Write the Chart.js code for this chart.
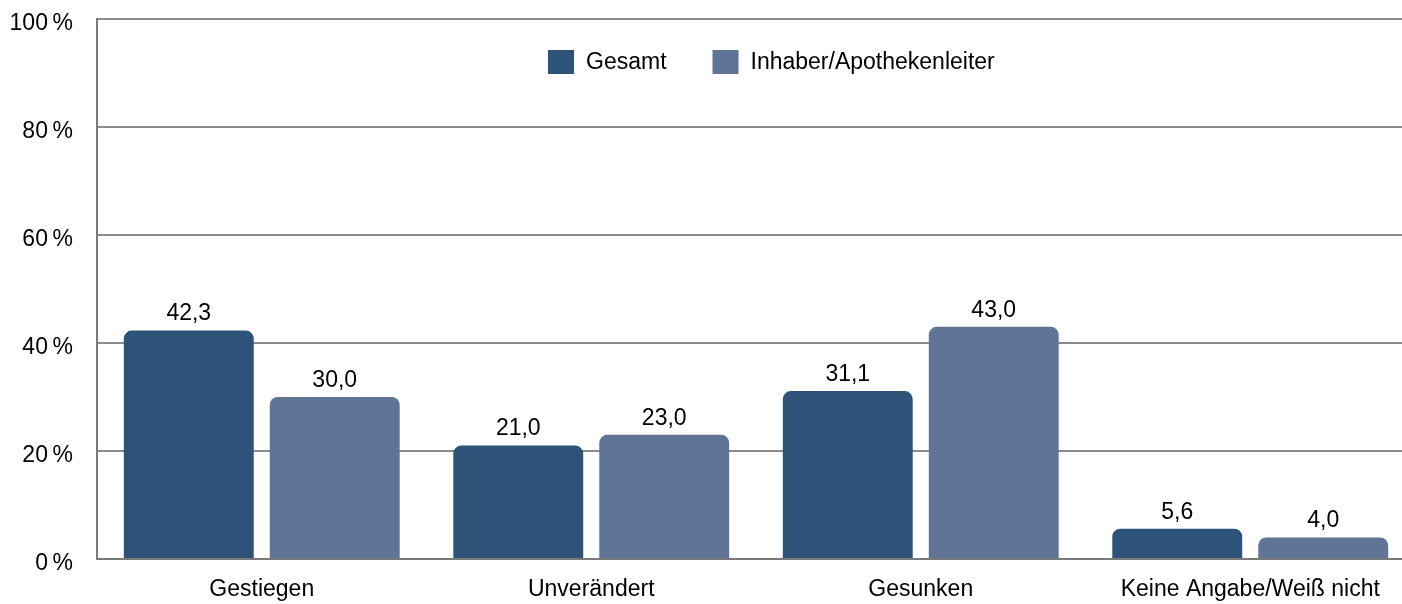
<!DOCTYPE html>
<html>
<head>
<meta charset="utf-8">
<script src="https://cdn.jsdelivr.net/npm/chart.js@4.4.0/dist/chart.umd.min.js"></script>
<style>
  html, body { margin: 0; padding: 0; background: #fff; overflow: hidden; }
  #wrap { width: 1402px; height: 604px; overflow: hidden; }
</style>
</head>
<body>
<div id="wrap"><canvas id="chart" width="1415" height="604"></canvas></div>
<script>
// Data
const categories = ['Gestiegen', 'Unverändert', 'Gesunken', 'Keine Angabe/Weiß nicht'];
const seriesNames = ['Gesamt', 'Inhaber/Apothekenleiter'];
const gesamt = [42.3, 21.0, 31.1, 5.6];
const inhaber = [30.0, 23.0, 43.0, 4.0];
const yTicks = [0, 20, 40, 60, 80, 100];

const colors = ['#2e5379', '#607596'];
const fontFamily = '"Liberation Sans", Arial, sans-serif';
const fontSize = 23;

// Value labels above each bar (German decimal comma)
const valueLabels = {
    id: 'valueLabels',
    afterDatasetsDraw(chart) {
        const ctx = chart.ctx;
        ctx.save();
        ctx.font = fontSize + 'px ' + fontFamily;
        ctx.fillStyle = '#000';
        ctx.textAlign = 'center';
        ctx.textBaseline = 'bottom';
        chart.data.datasets.forEach((ds, i) => {
            chart.getDatasetMeta(i).data.forEach((bar, j) => {
                ctx.fillText(ds.data[j].toFixed(1).replace('.', ','), bar.x, bar.y - 5);
            });
        });
        ctx.restore();
    }
};

// Legend drawn inside the plot area, near the top
const innerLegend = {
    id: 'innerLegend',
    afterDraw(chart) {
        const ctx = chart.ctx;
        ctx.save();
        ctx.font = fontSize + 'px ' + fontFamily;
        ctx.textBaseline = 'middle';
        const box = 26, gapText = 12, gapItem = 46;
        const items = chart.data.datasets.map(ds => ({ label: ds.label, color: ds.backgroundColor }));
        let x = 548;
        const y = chart.chartArea.top + 43;
        items.forEach(it => {
            ctx.fillStyle = it.color;
            ctx.fillRect(x, y - 12, box, 24);
            x += box + gapText;
            ctx.fillStyle = '#000';
            ctx.fillText(it.label, x, y + 1);
            x += ctx.measureText(it.label).width + gapItem;
        });
        ctx.restore();
    }
};

new Chart(document.getElementById('chart'), {
    type: 'bar',
    data: {
        labels: categories,
        datasets: [
            { label: seriesNames[0], data: gesamt, backgroundColor: colors[0] },
            { label: seriesNames[1], data: inhaber, backgroundColor: colors[1] }
        ]
    },
    options: {
        responsive: false,
        animation: false,
        layout: { padding: { top: 19, right: 0, left: 0, bottom: 0 } },
        datasets: {
            bar: {
                categoryPercentage: 0.886,
                barPercentage: 0.89,
                borderRadius: { topLeft: 8, topRight: 8 },
                borderSkipped: 'bottom'
            }
        },
        plugins: {
            legend: { display: false },
            tooltip: { enabled: false }
        },
        scales: {
            x: {
                grid: { display: false, drawTicks: false },
                border: { display: true, color: '#7a7a7a', width: 2 },
                ticks: { color: '#000', font: { family: fontFamily, size: fontSize }, padding: 17 },
                afterFit(scale) {
                    scale.height = 45;
                    scale.paddingLeft = 0;
                    scale.paddingRight = 0;
                }
            },
            y: {
                min: 0,
                max: 100,
                afterBuildTicks(scale) { scale.ticks = yTicks.map(v => ({ value: v })); },
                grid: { color: '#8c8c8c', lineWidth: 2, drawTicks: false },
                border: { display: true, color: '#7a7a7a', width: 2 },
                ticks: {
                    color: '#000',
                    font: { family: fontFamily, size: fontSize },
                    padding: 24,
                    labelOffset: 5,
                    callback: v => v + '\u2009%'
                },
                afterFit(scale) {
                    scale.width = 97;
                    scale.paddingTop = 0;
                    scale.paddingBottom = 0;
                }
            }
        }
    },
    plugins: [valueLabels, innerLegend]
});
</script>
</body>
</html>
